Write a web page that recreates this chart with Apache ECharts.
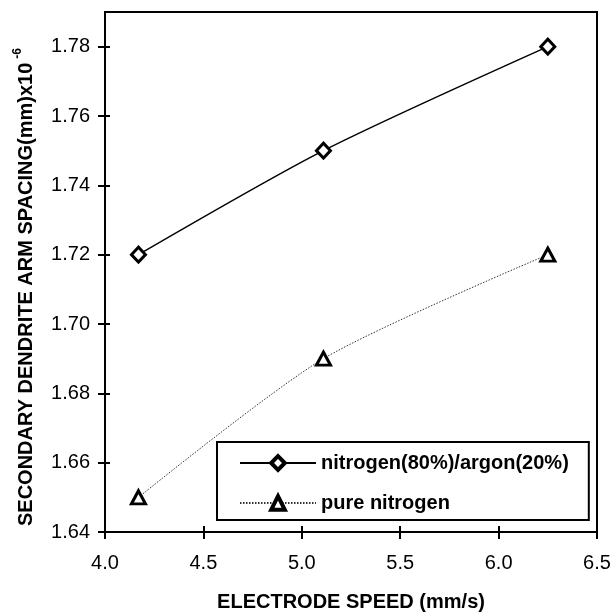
<!DOCTYPE html>
<html>
<head>
<meta charset="utf-8">
<script src="https://cdn.jsdelivr.net/npm/echarts@6/dist/echarts.min.js"></script>
<style>html,body{margin:0;padding:0;background:#fff}#c{width:613px;height:612px}</style>
</head>
<body>
<div id="c"></div>
<script>
const xTicks = [4.0, 4.5, 5.0, 5.5, 6.0, 6.5];
const yTicks = [1.64, 1.66, 1.68, 1.70, 1.72, 1.74, 1.76, 1.78];
const speed = [4.17, 5.11, 6.25];
const nitrogenArgon = [1.72, 1.75, 1.78];
const pureNitrogen = [1.65, 1.69, 1.72];
const seriesNames = ['nitrogen(80%)/argon(20%)', 'pure nitrogen'];

const FONT = '"Liberation Sans", Arial, sans-serif';
const chart = echarts.init(document.getElementById('c'), null, {renderer: 'canvas'});

const xBase = {
  type: 'value', min: 4, max: 6.5, interval: 0.5,
  splitLine: {show: false}
};
const yBase = {
  type: 'value', min: 1.64, max: 1.79, interval: 0.02,
  splitLine: {show: false}
};

chart.setOption({
  animation: false,
  backgroundColor: '#fff',
  grid: {left: 105, right: 16, top: 12, bottom: 80, containLabel: false, outerBoundsMode: 'none',
    show: true, borderColor: '#000', borderWidth: 2, backgroundColor: 'transparent'},
  xAxis: [
    Object.assign({}, xBase, {
      position: 'bottom',
      axisLine: {show: true, lineStyle: {color: '#000', width: 2}},
      axisTick: {show: true, inside: false, length: 7, lineStyle: {color: '#000', width: 2}, customValues: xTicks},
      axisLabel: {show: true, margin: 21, color: '#000', fontSize: 20, fontFamily: FONT, customValues: xTicks,
        formatter: v => v.toFixed(1)},
      name: 'ELECTRODE SPEED (mm/s)', nameLocation: 'middle', nameGap: 60,
      nameTextStyle: {color: '#000', fontSize: 20, fontWeight: 'bold', fontFamily: FONT}
    }),
    Object.assign({}, xBase, {
      position: 'bottom',
      axisLine: {show: false},
      axisTick: {show: true, inside: true, length: 6, lineStyle: {color: '#000', width: 2}, customValues: xTicks},
      axisLabel: {show: false}
    })
  ],
  yAxis: [
    Object.assign({}, yBase, {
      position: 'left',
      axisLine: {show: true, lineStyle: {color: '#000', width: 2}},
      axisTick: {show: true, inside: false, length: 7, lineStyle: {color: '#000', width: 2}, customValues: yTicks},
      axisLabel: {show: true, margin: 15, color: '#000', fontSize: 20, fontFamily: FONT, customValues: yTicks,
        formatter: v => v.toFixed(2)},
      name: '{a|SECONDARY DENDRITE ARM SPACING(mm)x10}{b|-6}', nameLocation: 'middle', nameGap: 65,
      nameRotate: 90,
      nameTextStyle: {color: '#000', fontFamily: FONT, padding: [0, 30, 0, 0],
        rich: {
          a: {fontSize: 20, fontWeight: 'bold', fontFamily: FONT, color: '#000'},
          b: {fontSize: 12, fontWeight: 'bold', fontFamily: FONT, color: '#000', padding: [0, 0, 16, 4]}
        }}
    }),
    Object.assign({}, yBase, {
      position: 'left',
      axisLine: {show: false},
      axisTick: {show: true, inside: true, length: 5, lineStyle: {color: '#000', width: 2}, customValues: yTicks},
      axisLabel: {show: false}
    })
  ],
  legend: {
    left: 217, top: 442, orient: 'vertical',
    backgroundColor: '#fff', borderColor: '#000', borderWidth: 2,
    padding: [11, 20, 7, 22], itemGap: 20, itemWidth: 76, itemHeight: 17, itemTextGap: 6,
    itemStyle: {borderWidth: 4},
    textStyle: {color: '#000', fontSize: 20, fontWeight: 'bold', fontFamily: FONT},
    data: seriesNames
  },
  series: [
    {
      name: seriesNames[0], type: 'line', xAxisIndex: 0, yAxisIndex: 0,
      data: speed.map((x, i) => [x, nitrogenArgon[i]]),
      smooth: 0.25,
      symbol: 'diamond', symbolSize: [14, 15],
      lineStyle: {color: '#000', width: 1.5, type: 'solid'},
      itemStyle: {color: '#fff', borderColor: '#000', borderWidth: 3}
    },
    {
      name: seriesNames[1], type: 'line', xAxisIndex: 0, yAxisIndex: 0,
      data: speed.map((x, i) => [x, pureNitrogen[i]]),
      smooth: 0.25,
      symbol: 'triangle', symbolSize: [14, 13],
      lineStyle: {color: '#333', width: 1, type: [1.5, 1.5]},
      itemStyle: {color: '#fff', borderColor: '#000', borderWidth: 3}
    }
  ]
});
</script>
</body>
</html>
